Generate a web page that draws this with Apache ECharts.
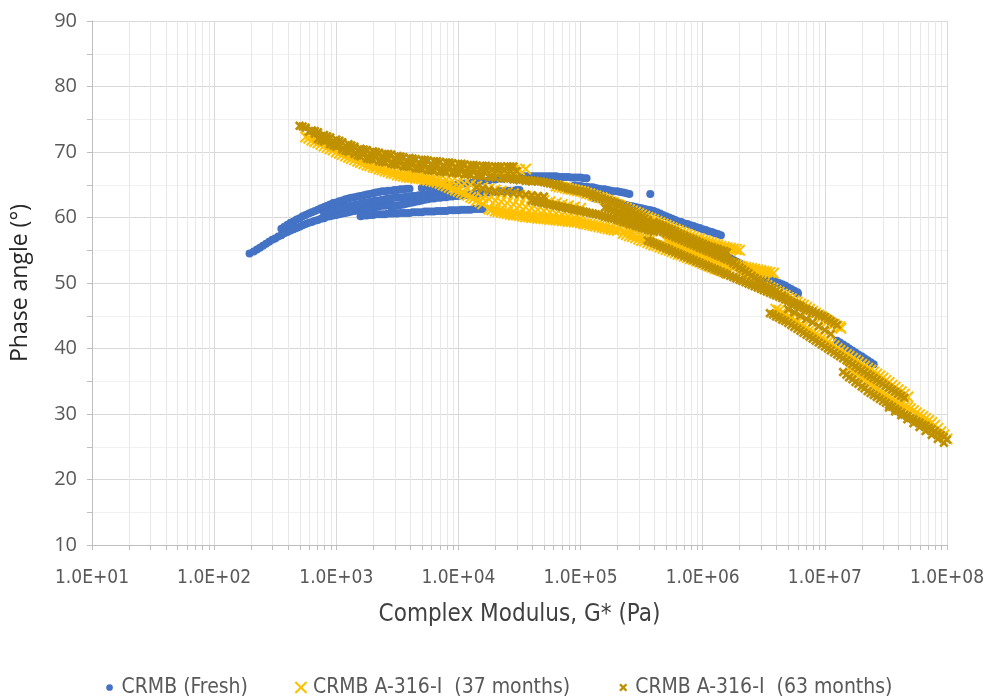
<!DOCTYPE html>
<html>
<head>
<meta charset="utf-8">
<script src="https://cdn.jsdelivr.net/npm/echarts@6/dist/echarts.min.js"></script>
<style>
  html, body { margin: 0; padding: 0; background: #ffffff; }
  #chart { width: 995px; height: 697px; }
</style>
</head>
<body>
<div id="chart"></div>
<script>
// Phase angle vs complex modulus (black space) for three CRMB binders.
// Each point is [G* in Pa, phase angle in degrees].

const seriesNames = ['CRMB (Fresh)', 'CRMB A-316-I  (37 months)', 'CRMB A-316-I  (63 months)'];

const fresh = [
  [1.95e2,54.5],[2.24e2,55.1],[2.51e2,55.7],[2.82e2,56.3],[3.16e2,56.8],[3.55e2,57.3],[3.98e2,57.8],[4.47e2,58.2],[5.01e2,58.6],[5.62e2,59.0],[6.31e2,59.3],[7.08e2,59.6],[7.94e2,59.9],[8.91e2,60.2],[1.00e3,60.4],[1.12e3,60.6],[1.26e3,60.8],[1.41e3,61.0],[1.58e3,61.2],[1.78e3,61.4],[2.00e3,61.5],[2.24e3,61.7],[2.51e3,61.8],[2.82e3,62.0],
  [2.11e2,54.8],[2.37e2,55.4],[2.66e2,56.0],[2.99e2,56.6],[3.35e2,57.1],[3.76e2,57.6],[4.22e2,58.0],[4.73e2,58.4],[5.31e2,58.8],[5.96e2,59.2],[6.68e2,59.5],[7.50e2,59.8],[8.41e2,60.1],[9.44e2,60.3],[1.06e3,60.5],[1.19e3,60.7],[1.33e3,60.9],[1.50e3,61.1],[1.68e3,61.3],[1.88e3,61.5],[2.11e3,61.6],[2.37e3,61.8],[2.66e3,61.9],
  [3.55e2,58.3],[3.98e2,58.9],[4.47e2,59.4],[5.01e2,59.9],[5.62e2,60.4],[6.31e2,60.8],[7.08e2,61.2],[7.94e2,61.6],[8.91e2,62.0],[1.00e3,62.3],[1.12e3,62.6],[1.26e3,62.9],[1.41e3,63.1],[1.58e3,63.3],[1.78e3,63.5],[2.00e3,63.7],[2.24e3,63.9],[2.51e3,64.0],[2.82e3,64.1],[3.16e3,64.2],[3.55e3,64.3],[3.98e3,64.4],
  [3.76e2,58.6],[4.22e2,59.2],[4.73e2,59.7],[5.31e2,60.2],[5.96e2,60.6],[6.68e2,61.0],[7.50e2,61.4],[8.41e2,61.8],[9.44e2,62.2],[1.06e3,62.5],[1.19e3,62.8],[1.33e3,63.0],[1.50e3,63.2],[1.68e3,63.4],[1.88e3,63.6],[2.11e3,63.8],[2.37e3,64.0],[2.66e3,64.1],[2.99e3,64.2],[3.35e3,64.3],[3.76e3,64.4],
  [7.94e2,60.6],[8.91e2,60.9],[1.00e3,61.2],[1.12e3,61.5],[1.26e3,61.7],[1.41e3,61.9],[1.58e3,62.1],[1.78e3,62.3],[2.00e3,62.5],[2.24e3,62.6],[2.51e3,62.8],[2.82e3,62.9],[3.16e3,63.0],[3.55e3,63.1],[3.98e3,63.2],[4.47e3,63.3],[5.01e3,63.4],[5.62e3,63.5],[6.31e3,63.6],[7.08e3,63.7],[7.94e3,63.8],
  [8.41e2,60.8],[9.44e2,61.1],[1.06e3,61.4],[1.19e3,61.6],[1.33e3,61.8],[1.50e3,62.0],[1.68e3,62.2],[1.88e3,62.4],[2.11e3,62.6],[2.37e3,62.7],[2.66e3,62.9],[2.99e3,63.0],[3.35e3,63.1],[3.76e3,63.2],[4.22e3,63.3],[4.73e3,63.4],[5.31e3,63.5],[5.96e3,63.6],[6.68e3,63.7],[7.50e3,63.8],
  [1.58e3,60.2],[1.78e3,60.3],[2.00e3,60.4],[2.24e3,60.5],[2.51e3,60.5],[2.82e3,60.6],[3.16e3,60.6],[3.55e3,60.7],[3.98e3,60.7],[4.47e3,60.8],[5.01e3,60.8],[5.62e3,60.9],[6.31e3,60.9],[7.08e3,61.0],[7.94e3,61.0],[8.91e3,61.1],[1.00e4,61.1],[1.12e4,61.2],[1.26e4,61.2],[1.41e4,61.3],[1.58e4,61.3],
  [1.68e3,60.3],[1.88e3,60.4],[2.11e3,60.5],[2.37e3,60.5],[2.66e3,60.6],[2.99e3,60.6],[3.35e3,60.7],[3.76e3,60.7],[4.22e3,60.8],[4.73e3,60.8],[5.31e3,60.9],[5.96e3,60.9],[6.68e3,61.0],[7.50e3,61.0],[8.41e3,61.1],[9.44e3,61.1],[1.06e4,61.2],[1.19e4,61.2],[1.33e4,61.3],[1.50e4,61.3],
  [2.82e3,61.6],[3.16e3,61.8],[3.55e3,62.0],[3.98e3,62.2],[4.47e3,62.4],[5.01e3,62.6],[5.62e3,62.8],[6.31e3,62.9],[7.08e3,63.0],[7.94e3,63.1],[8.91e3,63.2],[1.00e4,63.3],[1.12e4,63.4],[1.26e4,63.5],[1.41e4,63.6],[1.58e4,63.7],[1.78e4,63.8],[2.00e4,63.9],[2.24e4,64.0],[2.51e4,64.1],[2.82e4,64.1],[3.16e4,64.2],
  [2.99e3,61.7],[3.35e3,61.9],[3.76e3,62.1],[4.22e3,62.3],[4.73e3,62.5],[5.31e3,62.7],[5.96e3,62.9],[6.68e3,63.0],[7.50e3,63.1],[8.41e3,63.2],[9.44e3,63.3],[1.06e4,63.4],[1.19e4,63.5],[1.33e4,63.6],[1.50e4,63.7],[1.68e4,63.8],[1.88e4,63.9],[2.11e4,64.0],[2.37e4,64.1],[2.66e4,64.1],[2.99e4,64.2],
  [5.01e3,64.5],[5.62e3,64.6],[6.31e3,64.7],[7.08e3,64.8],[7.94e3,64.9],[8.91e3,65.0],[1.00e4,65.1],[1.12e4,65.2],[1.26e4,65.3],[1.41e4,65.5],[1.58e4,65.6],[1.78e4,65.7],[2.00e4,65.8],[2.24e4,65.9],[2.51e4,66.0],[2.82e4,66.1],[3.16e4,66.2],[3.55e4,66.3],[3.98e4,66.3],[4.47e4,66.3],[5.01e4,66.3],[5.62e4,66.3],[6.31e4,66.3],[7.08e4,66.2],[7.94e4,66.2],[8.91e4,66.1],[1.00e5,66.1],[1.12e5,66.0],
  [2.99e4,66.2],[3.35e4,66.3],[3.76e4,66.3],[4.22e4,66.3],[4.73e4,66.3],[5.31e4,66.3],[5.96e4,66.3],[6.68e4,66.2],[7.50e4,66.2],[8.41e4,66.1],[9.44e4,66.1],[1.06e5,66.0],
  [8.91e4,64.9],[1.00e5,64.8],[1.12e5,64.7],[1.26e5,64.6],[1.41e5,64.4],[1.58e5,64.3],[1.78e5,64.1],[2.00e5,64.0],[2.24e5,63.8],[2.51e5,63.6],[3.72e5,63.6],
  [9.44e4,64.8],[1.06e5,64.7],[1.19e5,64.6],[1.33e5,64.5],[1.50e5,64.3],[1.68e5,64.2],[1.88e5,64.0],[2.11e5,63.9],[2.37e5,63.7],
  [1.26e5,63.0],[1.41e5,62.8],[1.58e5,62.6],[1.78e5,62.4],[2.00e5,62.2],[2.24e5,62.0],[2.51e5,61.8],[2.82e5,61.6],[3.16e5,61.4],[3.55e5,61.2],[3.98e5,61.0],[4.47e5,60.6],[5.01e5,60.2],[5.62e5,59.8],[6.31e5,59.4],[7.08e5,59.1],[7.94e5,58.8],[8.91e5,58.5],[1.00e6,58.2],[1.12e6,57.9],[1.26e6,57.6],[1.41e6,57.3],
  [1.33e5,62.9],[1.50e5,62.7],[1.68e5,62.5],[1.88e5,62.3],[2.11e5,62.1],[2.37e5,61.9],[2.66e5,61.7],[2.99e5,61.5],[3.35e5,61.3],[3.76e5,61.1],[4.22e5,60.8],[4.73e5,60.4],[5.31e5,60.0],[5.96e5,59.6],[6.68e5,59.3],[7.50e5,59.0],[8.41e5,58.7],[9.44e5,58.4],[1.06e6,58.1],[1.19e6,57.8],[1.33e6,57.5],
  [1.58e6,54.0],[1.78e6,53.5],[2.00e6,53.0],[2.24e6,52.5],[2.51e6,52.0],[2.82e6,51.5],[3.16e6,51.0],[3.55e6,50.6],[3.98e6,50.2],[4.47e6,49.8],[5.01e6,49.3],[5.62e6,48.8],[6.03e6,48.4],
  [1.68e6,53.8],[1.88e6,53.3],[2.11e6,52.8],[2.37e6,52.3],[2.66e6,51.8],[2.99e6,51.3],[3.35e6,50.8],[3.76e6,50.4],[4.22e6,50.0],[4.73e6,49.6],[5.31e6,49.1],[5.96e6,48.6],
  [1.26e7,41.2],[1.41e7,40.6],[1.58e7,40.0],[1.78e7,39.4],[2.00e7,38.8],[2.24e7,38.2],[2.51e7,37.6],
  [1.33e7,40.9],[1.50e7,40.3],[1.68e7,39.7],[1.88e7,39.1],[2.11e7,38.5],[2.37e7,37.9]
];

const aged37 = [
  [5.62e2,72.3],[6.31e2,71.8],[7.08e2,71.4],[7.94e2,70.9],[8.91e2,70.5],[1.00e3,70.0],[1.12e3,69.6],[1.26e3,69.2],[1.41e3,68.8],[1.58e3,68.4],[1.78e3,68.0],[2.00e3,67.7],[2.24e3,67.4],[2.51e3,67.1],[2.82e3,66.8],[3.16e3,66.5],[3.55e3,66.3],[3.98e3,66.1],[4.47e3,66.0],[5.01e3,65.9],[5.62e3,65.7],[6.31e3,65.5],[7.08e3,65.2],[7.94e3,64.8],[8.91e3,64.4],[1.00e4,64.0],[1.12e4,63.6],[1.26e4,63.1],[1.41e4,62.6],[1.58e4,62.1],
  [5.96e2,72.1],[6.68e2,71.6],[7.50e2,71.2],[8.41e2,70.7],[9.44e2,70.3],[1.06e3,69.8],[1.19e3,69.4],[1.33e3,69.0],[1.50e3,68.6],[1.68e3,68.2],[1.88e3,67.9],[2.11e3,67.6],[2.37e3,67.3],[2.66e3,67.0],[2.99e3,66.7],[3.35e3,66.4],[3.76e3,66.2],[4.22e3,66.1],[4.73e3,66.0],[5.31e3,65.8],[5.96e3,65.6],[6.68e3,65.4],[7.50e3,65.0],[8.41e3,64.6],[9.44e3,64.2],[1.06e4,63.8],[1.19e4,63.4],[1.33e4,62.9],[1.50e4,62.4],
  [2.00e3,69.6],[2.24e3,69.3],[2.51e3,69.0],[2.82e3,68.8],[3.16e3,68.6],[3.55e3,68.4],[3.98e3,68.2],[4.47e3,68.0],[5.01e3,67.9],[5.62e3,67.8],[6.31e3,67.7],[7.08e3,67.6],[7.94e3,67.5],[8.91e3,67.4],[1.00e4,67.4],[1.12e4,67.3],[1.26e4,67.3],[1.41e4,67.3],[1.58e4,67.2],[1.78e4,67.2],[2.00e4,67.2],[2.24e4,67.2],[2.51e4,67.2],[2.82e4,67.2],[3.16e4,67.3],[3.55e4,67.4],
  [3.98e3,67.0],[4.47e3,66.8],[5.01e3,66.6],[5.62e3,66.4],[6.31e3,66.2],[7.08e3,66.0],[7.94e3,65.8],[8.91e3,65.6],[1.00e4,65.4],[1.12e4,65.2],[1.26e4,65.0],[1.41e4,64.8],[1.58e4,64.6],[1.78e4,64.4],[2.00e4,64.2],[2.24e4,64.0],[2.51e4,63.8],[2.82e4,63.6],[3.16e4,63.4],[3.55e4,63.2],[3.98e4,63.0],[4.47e4,62.8],[5.01e4,62.6],[5.62e4,62.4],[6.31e4,62.2],[7.08e4,62.0],[7.94e4,61.8],[8.91e4,61.6],[1.00e5,61.4],
  [1.58e4,63.0],[1.78e4,62.8],[2.00e4,62.6],[2.24e4,62.4],[2.51e4,62.2],[2.82e4,62.0],[3.16e4,61.8],[3.55e4,61.6],[3.98e4,61.4],[4.47e4,61.2],[5.01e4,61.0],[5.62e4,60.8],[6.31e4,60.6],[7.08e4,60.4],[7.94e4,60.2],[8.91e4,60.0],[1.00e5,59.8],
  [1.78e4,61.3],[2.00e4,61.0],[2.24e4,60.8],[2.51e4,60.6],[2.82e4,60.4],[3.16e4,60.3],[3.55e4,60.1],[3.98e4,60.0],[4.47e4,59.9],[5.01e4,59.8],[5.62e4,59.7],[6.31e4,59.6],[7.08e4,59.5],[7.94e4,59.4],[8.91e4,59.3],[1.00e5,59.2],[1.12e5,59.0],[1.26e5,58.8],[1.41e5,58.6],[1.58e5,58.4],[1.78e5,58.2],[2.00e5,58.0],
  [1.88e4,61.2],[2.11e4,60.9],[2.37e4,60.7],[2.66e4,60.5],[2.99e4,60.4],[3.35e4,60.2],[3.76e4,60.1],[4.22e4,60.0],[4.73e4,59.9],[5.31e4,59.8],[5.96e4,59.7],[6.68e4,59.6],[7.50e4,59.5],[8.41e4,59.4],[9.44e4,59.3],[1.06e5,59.1],[1.19e5,58.9],[1.33e5,58.7],[1.50e5,58.5],[1.68e5,58.3],[1.88e5,58.1],
  [2.24e5,57.6],[2.51e5,57.2],[2.82e5,56.9],[3.16e5,56.5],[3.55e5,56.2],[3.98e5,55.8],[4.47e5,55.5],[5.01e5,55.1],[5.62e5,54.8],[6.31e5,54.4],[7.08e5,54.1],[7.94e5,53.7],[8.91e5,53.4],[1.00e6,53.0],[1.12e6,52.6],[1.26e6,52.2],[1.41e6,51.9],[1.58e6,51.5],
  [2.37e5,57.4],[2.66e5,57.1],[2.99e5,56.7],[3.35e5,56.4],[3.76e5,56.0],[4.22e5,55.7],[4.73e5,55.3],[5.31e5,55.0],[5.96e5,54.6],[6.68e5,54.3],[7.50e5,53.9],[8.41e5,53.6],[9.44e5,53.2],[1.06e6,52.8],[1.19e6,52.4],[1.33e6,52.1],[1.50e6,51.7],
  [6.31e4,64.8],[7.08e4,64.6],[7.94e4,64.4],[8.91e4,64.2],[1.00e5,64.0],[1.12e5,63.7],[1.26e5,63.4],[1.41e5,63.1],[1.58e5,62.8],[1.78e5,62.4],[2.00e5,62.0],[2.24e5,61.6],[2.51e5,61.2],[2.82e5,60.8],[3.16e5,60.4],[3.55e5,60.0],[3.98e5,59.6],[4.47e5,59.2],[5.01e5,58.8],[5.62e5,58.4],[6.31e5,58.0],[7.08e5,57.6],[7.94e5,57.2],[8.91e5,56.8],[1.00e6,56.5],[1.12e6,56.2],[1.26e6,55.9],[1.41e6,55.6],[1.58e6,55.4],[1.78e6,55.2],[2.00e6,55.0],
  [6.68e4,64.7],[7.50e4,64.5],[8.41e4,64.3],[9.44e4,64.1],[1.06e5,63.9],[1.19e5,63.6],[1.33e5,63.3],[1.50e5,63.0],[1.68e5,62.6],[1.88e5,62.2],[2.11e5,61.8],[2.37e5,61.4],[2.66e5,61.0],[2.99e5,60.6],[3.35e5,60.2],[3.76e5,59.8],[4.22e5,59.4],[4.73e5,59.0],[5.31e5,58.6],[5.96e5,58.2],[6.68e5,57.8],[7.50e5,57.4],[8.41e5,57.0],[9.44e5,56.7],[1.06e6,56.4],[1.19e6,56.1],[1.33e6,55.8],[1.50e6,55.5],[1.68e6,55.3],[1.88e6,55.1],
  [5.01e5,56.5],[5.62e5,56.1],[6.31e5,55.7],[7.08e5,55.3],[7.94e5,54.9],[8.91e5,54.5],[1.00e6,54.2],[1.12e6,53.9],[1.26e6,53.6],[1.41e6,53.3],[1.58e6,53.0],[1.78e6,52.8],[2.00e6,52.6],[2.24e6,52.4],[2.51e6,52.2],[2.82e6,52.0],[3.16e6,51.8],[3.55e6,51.6],[3.80e6,51.5],
  [5.31e5,56.3],[5.96e5,55.9],[6.68e5,55.5],[7.50e5,55.1],[8.41e5,54.7],[9.44e5,54.4],[1.06e6,54.1],[1.19e6,53.8],[1.33e6,53.5],[1.50e6,53.2],[1.68e6,52.9],[1.88e6,52.7],[2.11e6,52.5],[2.37e6,52.3],[2.66e6,52.1],[2.99e6,51.9],[3.35e6,51.7],
  [2.00e6,51.8],[2.24e6,51.3],[2.51e6,50.8],[2.82e6,50.3],[3.16e6,49.8],[3.55e6,49.3],[3.98e6,48.8],[4.47e6,48.3],[5.01e6,47.8],[5.62e6,47.3],[6.31e6,46.8],[7.08e6,46.3],[7.94e6,45.7],[8.91e6,45.1],[1.00e7,44.5],[1.12e7,43.9],[1.26e7,43.4],[1.35e7,43.1],
  [2.11e6,51.6],[2.37e6,51.1],[2.66e6,50.6],[2.99e6,50.1],[3.35e6,49.6],[3.76e6,49.1],[4.22e6,48.6],[4.73e6,48.1],[5.31e6,47.6],[5.96e6,47.1],[6.68e6,46.6],[7.50e6,46.0],[8.41e6,45.4],[9.44e6,44.8],[1.06e7,44.2],[1.19e7,43.7],[1.33e7,43.3],
  [3.98e6,46.0],[4.47e6,45.5],[5.01e6,44.9],[5.62e6,44.3],[6.31e6,43.7],[7.08e6,43.1],[7.94e6,42.5],[8.91e6,41.9],[1.00e7,41.3],[1.12e7,40.7],[1.26e7,40.0],[1.41e7,39.4],[1.58e7,38.8],[1.78e7,38.2],[2.00e7,37.6],[2.24e7,37.0],[2.51e7,36.4],[2.82e7,35.8],[3.16e7,35.1],[3.55e7,34.4],[3.98e7,33.7],[4.47e7,33.0],[4.79e7,32.6],
  [4.22e6,45.8],[4.73e6,45.2],[5.31e6,44.6],[5.96e6,44.0],[6.68e6,43.4],[7.50e6,42.8],[8.41e6,42.2],[9.44e6,41.6],[1.06e7,41.0],[1.19e7,40.4],[1.33e7,39.7],[1.50e7,39.1],[1.68e7,38.5],[1.88e7,37.9],[2.11e7,37.3],[2.37e7,36.7],[2.66e7,36.1],[2.99e7,35.5],[3.35e7,34.8],[3.76e7,34.1],[4.22e7,33.4],
  [1.58e7,37.0],[1.78e7,36.3],[2.00e7,35.6],[2.24e7,34.9],[2.51e7,34.2],[2.82e7,33.5],[3.16e7,32.9],[3.55e7,32.3],[3.98e7,31.7],[4.47e7,31.1],[5.01e7,30.8],[5.62e7,30.2],[6.31e7,29.6],[7.08e7,29.0],[7.94e7,28.3],[8.91e7,27.3],[1.00e8,26.2],
  [1.68e7,36.7],[1.88e7,36.0],[2.11e7,35.3],[2.37e7,34.6],[2.66e7,33.9],[2.99e7,33.2],[3.35e7,32.6],[3.76e7,32.0],[4.22e7,31.4],[4.73e7,31.0],[5.31e7,30.5],[5.96e7,29.9],[6.68e7,29.3],[7.50e7,28.7],[8.41e7,27.8],[9.44e7,26.8],
  [2.11e5,58.6],[2.37e5,58.2],[2.66e5,57.8],[2.99e5,57.4],[3.35e5,57.0],[3.76e5,56.7]
];

const aged63 = [
  [5.01e2,74.0],[5.62e2,73.7],[6.31e2,73.3],[7.08e2,73.0],[7.94e2,72.6],[8.91e2,72.2],[1.00e3,71.9],[1.12e3,71.5],[1.26e3,71.2],[1.41e3,70.8],[1.58e3,70.5],[1.78e3,70.3],[2.00e3,70.1],[2.24e3,69.9],[2.51e3,69.7],[2.82e3,69.6],[3.16e3,69.4],[3.55e3,69.2],[3.98e3,69.1],[4.47e3,68.9],[5.01e3,68.8],[5.62e3,68.7],[6.31e3,68.6],[7.08e3,68.5],[7.94e3,68.4],[8.91e3,68.3],[1.00e4,68.2],[1.12e4,68.1],[1.26e4,68.0],[1.41e4,67.9],[1.58e4,67.9],[1.78e4,67.8],[2.00e4,67.8],[2.24e4,67.8],[2.51e4,67.8],[2.82e4,67.8],
  [5.31e2,73.9],[6.68e2,73.2],[8.41e2,72.4],[1.06e3,71.7],[1.33e3,71.0],[1.68e3,70.4],[2.11e3,70.0],[2.66e3,69.7],[3.35e3,69.3],[4.22e3,69.0],[5.31e3,68.8],[6.68e3,68.6],[8.41e3,68.4],[1.06e4,68.2],[1.33e4,68.0],[1.68e4,67.9],[2.11e4,67.8],[2.66e4,67.8],
  [5.96e2,73.1],[6.68e2,72.8],[7.50e2,72.4],[8.41e2,72.0],[9.44e2,71.6],[1.06e3,71.2],[1.19e3,70.9],[1.33e3,70.5],[1.50e3,70.2],[1.68e3,69.9],[1.88e3,69.7],[2.11e3,69.4],[2.37e3,69.2],[2.66e3,69.0],[2.99e3,68.9],[3.35e3,68.7],[3.76e3,68.6],[4.22e3,68.4],[4.73e3,68.3],[5.31e3,68.2],[5.96e3,68.1],[6.68e3,68.0],[7.50e3,67.9],[8.41e3,67.8],[9.44e3,67.7],[1.06e4,67.6],[1.19e4,67.5],[1.33e4,67.4],[1.50e4,67.4],[1.68e4,67.3],[1.88e4,67.3],[2.11e4,67.2],[2.37e4,67.2],[2.66e4,67.1],[2.99e4,67.1],
  [7.08e2,72.0],[7.94e2,71.6],[8.91e2,71.2],[1.00e3,70.8],[1.12e3,70.4],[1.26e3,70.0],[1.41e3,69.7],[1.58e3,69.3],[1.78e3,69.0],[2.00e3,68.8],[2.24e3,68.6],[2.51e3,68.4],[2.82e3,68.2],[3.16e3,68.0],[3.55e3,67.8],[3.98e3,67.7],[4.47e3,67.5],[5.01e3,67.4],[5.62e3,67.2],[6.31e3,67.1],[7.08e3,67.0],[7.94e3,66.9],[8.91e3,66.8],[1.00e4,66.7],[1.12e4,66.6],[1.26e4,66.5],[1.41e4,66.4],[1.58e4,66.3],[1.78e4,66.2],[2.00e4,66.1],[2.24e4,66.0],[2.51e4,65.9],[2.82e4,65.8],[3.16e4,65.7],[3.55e4,65.6],[3.98e4,65.5],
  [7.50e2,71.8],[9.44e2,71.0],[1.19e3,70.2],[1.50e3,69.5],[1.88e3,68.9],[2.37e3,68.5],[2.99e3,68.1],[3.76e3,67.8],[4.73e3,67.5],[5.96e3,67.2],[7.50e3,67.0],[9.44e3,66.8],[1.19e4,66.6],[1.50e4,66.4],[1.88e4,66.2],[2.37e4,66.0],[2.99e4,65.8],[3.76e4,65.6],
  [1.41e4,64.6],[1.58e4,64.4],[1.78e4,64.2],[2.00e4,64.0],[2.24e4,63.9],[2.51e4,63.8],[2.82e4,63.7],[3.16e4,63.6],[3.55e4,63.5],[3.98e4,63.4],[4.47e4,63.3],[5.01e4,63.2],
  [2.51e4,66.0],[2.82e4,65.9],[3.16e4,65.8],[3.55e4,65.7],[3.98e4,65.6],[4.47e4,65.5],[5.01e4,65.4],[5.62e4,65.2],[6.31e4,65.0],[7.08e4,64.7],[7.94e4,64.4],[8.91e4,64.2],[1.00e5,64.0],[1.12e5,63.7],[1.26e5,63.4],[1.41e5,63.1],[1.58e5,62.8],[1.78e5,62.5],[2.00e5,62.1],[2.24e5,61.6],[2.51e5,61.1],[2.82e5,60.6],[3.16e5,60.1],[3.55e5,59.6],
  [2.66e4,66.0],[2.99e4,65.9],[3.35e4,65.8],[3.76e4,65.7],[4.22e4,65.6],[4.73e4,65.5],[5.31e4,65.3],[5.96e4,65.1],[6.68e4,64.9],[7.50e4,64.6],[8.41e4,64.3],[9.44e4,64.1],[1.06e5,63.9],[1.19e5,63.6],[1.33e5,63.3],[1.50e5,63.0],[1.68e5,62.7],[1.88e5,62.3],[2.11e5,61.9],[2.37e5,61.4],[2.66e5,60.9],[2.99e5,60.4],[3.35e5,59.9],
  [3.98e4,62.6],[4.47e4,62.4],[5.01e4,62.2],[5.62e4,62.0],[6.31e4,61.8],[7.08e4,61.6],[7.94e4,61.4],[8.91e4,61.2],[1.00e5,61.0],[1.12e5,60.8],[1.26e5,60.6],[1.41e5,60.4],[1.58e5,60.1],[1.78e5,59.9],[2.00e5,59.6],[2.24e5,59.3],[2.51e5,59.0],[2.82e5,58.7],[3.16e5,58.4],[3.55e5,58.1],[3.98e5,57.8],
  [4.22e4,62.5],[4.73e4,62.3],[5.31e4,62.1],[5.96e4,61.9],[6.68e4,61.7],[7.50e4,61.5],[8.41e4,61.3],[9.44e4,61.1],[1.06e5,60.9],[1.19e5,60.7],[1.33e5,60.5],[1.50e5,60.3],[1.68e5,60.0],[1.88e5,59.8],[2.11e5,59.5],[2.37e5,59.2],[2.66e5,58.9],[2.99e5,58.6],[3.35e5,58.3],[3.76e5,58.0],
  [1.58e5,61.5],[1.78e5,61.2],[2.00e5,60.8],[2.24e5,60.4],[2.51e5,60.0],[2.82e5,59.6],[3.16e5,59.2],[3.55e5,58.8],[3.98e5,58.4],[4.47e5,58.0],[5.01e5,57.6],[5.62e5,57.2],[6.31e5,56.8],[7.08e5,56.4],[7.94e5,56.0],[8.91e5,55.6],[1.00e6,55.2],[1.12e6,54.8],[1.26e6,54.4],[1.41e6,54.0],[1.58e6,53.6],[1.78e6,53.2],
  [1.68e5,61.4],[1.88e5,61.0],[2.11e5,60.6],[2.37e5,60.2],[2.66e5,59.8],[2.99e5,59.4],[3.35e5,59.0],[3.76e5,58.6],[4.22e5,58.2],[4.73e5,57.8],[5.31e5,57.4],[5.96e5,57.0],[6.68e5,56.6],[7.50e5,56.2],[8.41e5,55.8],[9.44e5,55.4],[1.06e6,55.0],[1.19e6,54.6],[1.33e6,54.2],[1.50e6,53.8],[1.68e6,53.4],
  [3.55e5,56.5],[3.98e5,56.1],[4.47e5,55.7],[5.01e5,55.3],[5.62e5,54.9],[6.31e5,54.5],[7.08e5,54.1],[7.94e5,53.7],[8.91e5,53.3],[1.00e6,52.9],[1.12e6,52.5],[1.26e6,52.1],[1.41e6,51.7],[1.58e6,51.3],[1.78e6,50.9],[2.00e6,50.5],[2.24e6,50.1],[2.51e6,49.7],[2.82e6,49.3],[3.16e6,48.9],[3.55e6,48.5],[3.98e6,48.1],[4.47e6,47.7],[5.01e6,47.3],[5.62e6,46.9],[6.31e6,46.5],
  [3.76e5,56.3],[4.22e5,55.9],[4.73e5,55.5],[5.31e5,55.1],[5.96e5,54.7],[6.68e5,54.3],[7.50e5,53.9],[8.41e5,53.5],[9.44e5,53.1],[1.06e6,52.7],[1.19e6,52.3],[1.33e6,51.9],[1.50e6,51.5],[1.68e6,51.1],[1.88e6,50.7],[2.11e6,50.3],[2.37e6,49.9],[2.66e6,49.5],[2.99e6,49.1],[3.35e6,48.7],[3.76e6,48.3],[4.22e6,47.9],[4.73e6,47.5],[5.31e6,47.1],[5.96e6,46.7],
  [3.98e5,59.3],[4.47e5,58.9],[5.01e5,58.5],[5.62e5,58.1],[6.31e5,57.6],[7.08e5,57.2],[7.94e5,56.8],[8.91e5,56.4],[1.00e6,56.0],[1.12e6,55.6],[1.26e6,55.3],[1.41e6,55.0],[1.58e6,54.7],
  [4.22e5,59.1],[4.73e5,58.7],[5.31e5,58.3],[5.96e5,57.9],[6.68e5,57.4],[7.50e5,57.0],[8.41e5,56.6],[9.44e5,56.2],[1.06e6,55.8],[1.19e6,55.5],[1.33e6,55.2],[1.50e6,54.9],
  [1.78e6,53.0],[2.00e6,52.4],[2.24e6,51.8],[2.51e6,51.1],[2.82e6,50.5],[3.16e6,49.9],[3.55e6,49.3],[3.98e6,48.8],[4.47e6,48.1],[5.01e6,47.4],[5.62e6,46.8],[6.31e6,46.4],[7.08e6,46.0],[7.94e6,45.6],[8.91e6,45.2],[1.00e7,44.8],[1.12e7,44.2],[1.26e7,43.6],
  [1.88e6,52.7],[2.11e6,52.1],[2.37e6,51.5],[2.66e6,50.8],[2.99e6,50.2],[3.35e6,49.6],[3.76e6,49.1],[4.22e6,48.5],[4.73e6,47.8],[5.31e6,47.1],[5.96e6,46.6],[6.68e6,46.2],[7.50e6,45.8],[8.41e6,45.4],[9.44e6,45.0],[1.06e7,44.5],[1.19e7,43.9],
  [5.01e6,46.0],[5.62e6,45.5],[6.31e6,45.0],[7.08e6,44.5],[7.94e6,44.0],[8.91e6,43.4],[1.00e7,42.8],[1.12e7,42.2],
  [3.55e6,45.4],[3.98e6,44.9],[4.47e6,44.4],[5.01e6,43.9],[5.62e6,43.3],[6.31e6,42.7],[7.08e6,42.1],[7.94e6,41.5],[8.91e6,40.9],[1.00e7,40.3],[1.12e7,39.7],[1.26e7,39.1],[1.41e7,38.5],[1.58e7,37.9],[1.78e7,37.3],[2.00e7,36.7],[2.24e7,36.1],[2.51e7,35.5],[2.82e7,34.9],[3.16e7,34.3],[3.55e7,33.7],[3.98e7,33.1],[4.47e7,32.5],
  [3.76e6,45.2],[4.22e6,44.7],[4.73e6,44.2],[5.31e6,43.6],[5.96e6,43.0],[6.68e6,42.4],[7.50e6,41.8],[8.41e6,41.2],[9.44e6,40.6],[1.06e7,40.0],[1.19e7,39.4],[1.33e7,38.8],[1.50e7,38.2],[1.68e7,37.6],[1.88e7,37.0],[2.11e7,36.4],[2.37e7,35.8],[2.66e7,35.2],[2.99e7,34.6],[3.35e7,34.0],[3.76e7,33.4],[4.22e7,32.8],
  [1.41e7,36.4],[1.58e7,35.6],[1.78e7,34.9],[2.00e7,34.2],[2.24e7,33.5],[2.51e7,32.9],[2.82e7,32.3],[3.16e7,31.7],[3.55e7,31.1],[3.98e7,30.5],[4.47e7,29.9],[5.01e7,29.4],[5.62e7,28.9],[6.31e7,28.4],[7.08e7,27.9],[7.94e7,27.4],[8.91e7,26.8],[1.00e8,26.1],
  [1.50e7,36.0],[1.68e7,35.3],[1.88e7,34.6],[2.11e7,33.9],[2.37e7,33.2],[2.66e7,32.6],[2.99e7,32.0],[3.35e7,31.4],[3.76e7,30.8],[4.22e7,30.2],[4.73e7,29.7],[5.31e7,29.2],[5.96e7,28.7],[6.68e7,28.2],[7.50e7,27.7],[8.41e7,27.1],[9.44e7,26.5],
  [3.35e7,31.0],[3.76e7,30.4],[4.22e7,29.8],[4.73e7,29.2],[5.31e7,28.6],[5.96e7,28.0],[6.68e7,27.4],[7.50e7,26.8],[8.41e7,26.2],[9.44e7,25.6]
];

// Axis ranges and gridline positions
const xMin = 1e1, xMax = 1e8;
const yMin = 10, yMax = 90, yStep = 10;
const decadeStarts = [1e1, 1e2, 1e3, 1e4, 1e5, 1e6, 1e7];
const minorMultipliers = [2, 3, 4, 5, 6, 7, 8, 9];
const minorX = decadeStarts.flatMap(d => minorMultipliers.map(m => [m * d, yMin]));

const narrowFont = '"Liberation Sans Narrow", "DejaVu Sans Condensed", Roboto, sans-serif';
const roundFont = '"Open Sans", "Noto Sans", sans-serif';

// Marker shapes: thin "X" and a small bold "x"
const thinX = 'path://M0,1.2L1.2,0L5,3.8L8.8,0L10,1.2L6.2,5L10,8.8L8.8,10L5,6.2L1.2,10L0,8.8L3.8,5Z';
const boldX = 'path://M0,2L2,0L5,3L8,0L10,2L7,5L10,8L8,10L5,7L2,10L0,8L3,5Z';
const legendDot = 'path://M0,0M10,10M5,2.6A2.4,2.4,0,1,1,5,7.4A2.4,2.4,0,1,1,5,2.6Z';
const legendThinX = 'path://M-0.5,-0.5M10.5,10.5M0,1.2L1.2,0L5,3.8L8.8,0L10,1.2L6.2,5L10,8.8L8.8,10L5,6.2L1.2,10L0,8.8L3.8,5Z';
const legendBoldX = 'path://M-3.5,-3.5M13.5,13.5M0,2L2,0L5,3L8,0L10,2L7,5L10,8L8,10L5,7L2,10L0,8L3,5Z';

function expLabel(v) {
  const e = Math.round(Math.log10(v));
  return '1.0E+' + (e < 10 ? '0' : '') + e;
}

function renderMinorX(params, api) {
  const v = api.value(0);
  const bottom = api.coord([v, yMin]);
  const top = api.coord([v, yMax]);
  const x = Math.round(bottom[0]) + 0.5;
  return {
    type: 'group',
    children: [
      { type: 'line', shape: { x1: x, y1: top[1], x2: x, y2: bottom[1] }, style: { stroke: '#e8e8e8', lineWidth: 1 } },
      { type: 'line', shape: { x1: x, y1: bottom[1], x2: x, y2: bottom[1] + 5 }, style: { stroke: '#bfbfbf', lineWidth: 1 } }
    ]
  };
}

const chart = echarts.init(document.getElementById('chart'), null, { renderer: 'canvas' });

chart.setOption({
  animation: false,
  backgroundColor: '#ffffff',
  grid: { left: 92, right: 48, top: 21, bottom: 152 },
  legend: {
    top: 672,
    left: 'center',
    itemGap: 46,
    itemWidth: 14,
    itemHeight: 14,
    textStyle: { fontFamily: narrowFont, fontSize: 21, color: '#595959' },
    data: [
      { name: seriesNames[0], icon: legendDot },
      { name: seriesNames[1], icon: legendThinX },
      { name: seriesNames[2], icon: legendBoldX }
    ]
  },
  xAxis: {
    type: 'log',
    logBase: 10,
    min: xMin,
    max: xMax,
    splitNumber: 7,
    axisLine: { show: true, onZero: false, lineStyle: { color: '#bfbfbf', width: 1 } },
    axisTick: { show: true, length: 5, lineStyle: { color: '#bfbfbf' } },
    splitLine: { show: true, lineStyle: { color: '#d9d9d9', width: 1 } },
    axisLabel: { formatter: expLabel, margin: 24, fontFamily: narrowFont, fontSize: 19, color: '#595959' },
    name: 'Complex Modulus, G* (Pa)',
    nameLocation: 'middle',
    nameGap: 58,
    nameTextStyle: { fontFamily: narrowFont, fontSize: 24, color: '#404040' }
  },
  yAxis: {
    type: 'value',
    min: yMin,
    max: yMax,
    interval: yStep,
    axisLine: { show: true, lineStyle: { color: '#bfbfbf', width: 1 } },
    axisTick: { show: true, inside: false, length: 5, lineStyle: { color: '#bfbfbf' } },
    minorTick: { show: true, splitNumber: 2, length: 5, lineStyle: { color: '#bfbfbf' } },
    splitLine: { show: true, lineStyle: { color: '#d9d9d9', width: 1 } },
    minorSplitLine: { show: true, lineStyle: { color: '#f0f0f0', width: 1 } },
    axisLabel: { margin: 15, fontFamily: roundFont, fontSize: 20, color: '#595959' },
    name: 'Phase angle (°)',
    nameLocation: 'middle',
    nameGap: 60,
    nameRotate: 90,
    nameTextStyle: { fontFamily: roundFont, fontSize: 23, color: '#262626' }
  },
  series: [
    {
      type: 'custom',
      name: 'minor-grid',
      data: minorX,
      encode: { x: 0, y: 1 },
      renderItem: renderMinorX,
      silent: true,
      z: 1,
      clip: false
    },
    {
      name: seriesNames[0],
      type: 'scatter',
      data: fresh,
      symbol: 'circle',
      symbolSize: 8,
      itemStyle: { color: '#4472C4', opacity: 1 },
      clip: false,
      z: 3
    },
    {
      name: seriesNames[1],
      type: 'scatter',
      data: aged37,
      symbol: thinX,
      symbolSize: 12,
      itemStyle: { color: '#FFC000', opacity: 1 },
      clip: false,
      z: 4
    },
    {
      name: seriesNames[2],
      type: 'scatter',
      data: aged63,
      symbol: boldX,
      symbolSize: 9.5,
      itemStyle: { color: '#BF9000', opacity: 1 },
      clip: false,
      z: 5
    }
  ]
});
</script>
</body>
</html>
